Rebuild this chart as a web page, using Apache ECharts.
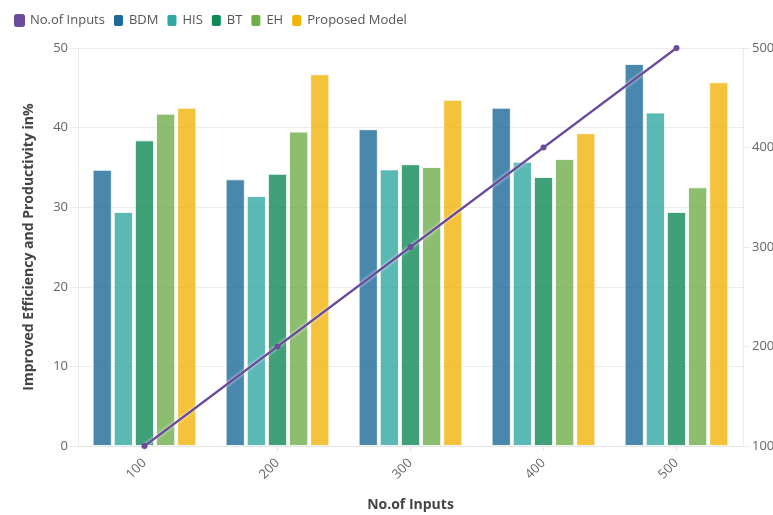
<!DOCTYPE html>
<html>
<head>
<meta charset="utf-8">
<script src="https://cdn.jsdelivr.net/npm/echarts@6/dist/echarts.min.js"></script>
<style>
  html, body { margin: 0; padding: 0; background: #fff; }
  #chart { width: 773px; height: 515px; }
</style>
</head>
<body>
<div id="chart"></div>
<script>
var categories = ['100', '200', '300', '400', '500'];
var inputs = [100, 200, 300, 400, 500];
var bdm = [34.7, 33.5, 39.8, 42.5, 48.0];
var his = [29.4, 31.4, 34.75, 35.7, 41.9];
var bt = [38.4, 34.2, 35.4, 33.8, 29.4];
var eh = [41.75, 39.5, 35.05, 36.05, 32.5];
var proposed = [42.5, 46.7, 43.5, 39.3, 45.7];
var leftTicks = [0, 10, 20, 30, 40, 50];
var rightTicks = [100, 200, 300, 400, 500];

var chart = echarts.init(document.getElementById('chart'));

var font = 'Open Sans';
var colors = {
    inputs: '#6a4c9c',
    bdm: '#1c6a97',
    his: '#31a6a3',
    bt: '#108a57',
    eh: '#70ae4b',
    pm: '#f2b30b'
};

function barSeries(name, data, color) {
    return {
        name: name,
        type: 'bar',
        yAxisIndex: 0,
        data: data,
        barGap: '10%',
        barCategoryGap: '22%',
        itemStyle: {
            color: color,
            opacity: 0.8,
            borderColor: '#ffffff',
            borderWidth: 1
        }
    };
}

chart.setOption({
    animation: false,
    textStyle: { fontFamily: font },
    legend: {
        left: 9,
        top: 8,
        icon: 'roundRect',
        itemWidth: 11,
        itemHeight: 13,
        itemGap: 7,
        textStyle: { fontSize: 13, color: '#555', fontFamily: font },
        data: [
            { name: 'No.of Inputs', icon: 'roundRect', itemStyle: { color: colors.inputs, opacity: 1 } },
            { name: 'BDM', itemStyle: { opacity: 1 } },
            { name: 'HIS', itemStyle: { opacity: 1 } },
            { name: 'BT', itemStyle: { opacity: 1 } },
            { name: 'EH', itemStyle: { opacity: 1 } },
            { name: 'Proposed Model', itemStyle: { opacity: 1 } }
        ]
    },
    grid: {
        left: 78,
        right: 30,
        top: 48,
        bottom: 69,
        containLabel: false,
        outerBoundsMode: 'none'
    },
    xAxis: {
        type: 'category',
        data: categories,
        name: 'No.of Inputs',
        nameLocation: 'middle',
        nameGap: 52,
        nameTextStyle: { fontSize: 14, fontWeight: 'bold', color: '#444', fontFamily: font },
        axisLine: { lineStyle: { color: '#e6e6e6' } },
        axisTick: { show: true, alignWithLabel: true, length: 5, lineStyle: { color: '#e6e6e6' } },
        axisLabel: { rotate: 45, color: '#666', fontSize: 13, margin: 15, padding: [0, 0, 0, 0] }
    },
    yAxis: [
        {
            type: 'value',
            min: leftTicks[0],
            max: leftTicks[leftTicks.length - 1],
            interval: 10,
            name: 'Improved Efficiency and Productivity in%',
            nameLocation: 'middle',
            nameGap: 42,
            nameTextStyle: { fontSize: 14, fontWeight: 'bold', color: '#444', fontFamily: font },
            axisLine: { show: true, lineStyle: { color: '#ececec' } },
            axisTick: { show: true, length: 8, lineStyle: { color: '#ececec' } },
            axisLabel: { color: '#666', fontSize: 13, margin: 10 },
            splitLine: { lineStyle: { color: '#ececec' } }
        },
        {
            type: 'value',
            min: rightTicks[0],
            max: rightTicks[rightTicks.length - 1],
            interval: 100,
            position: 'right',
            axisLine: { show: true, lineStyle: { color: '#ececec' } },
            axisTick: { show: true, length: 7, lineStyle: { color: '#ececec' } },
            axisLabel: { color: '#666', fontSize: 13, margin: 9 },
            splitLine: { show: false }
        }
    ],
    series: [
        {
            name: 'No.of Inputs',
            type: 'line',
            yAxisIndex: 1,
            data: inputs,
            z: 10,
            symbol: 'circle',
            symbolSize: 6,
            itemStyle: { color: colors.inputs },
            lineStyle: {
                color: colors.inputs,
                width: 2.2,
                shadowColor: 'rgba(255,255,255,0.9)',
                shadowBlur: 3
            }
        },
        barSeries('BDM', bdm, colors.bdm),
        barSeries('HIS', his, colors.his),
        barSeries('BT', bt, colors.bt),
        barSeries('EH', eh, colors.eh),
        barSeries('Proposed Model', proposed, colors.pm)
    ]
});
</script>
</body>
</html>
